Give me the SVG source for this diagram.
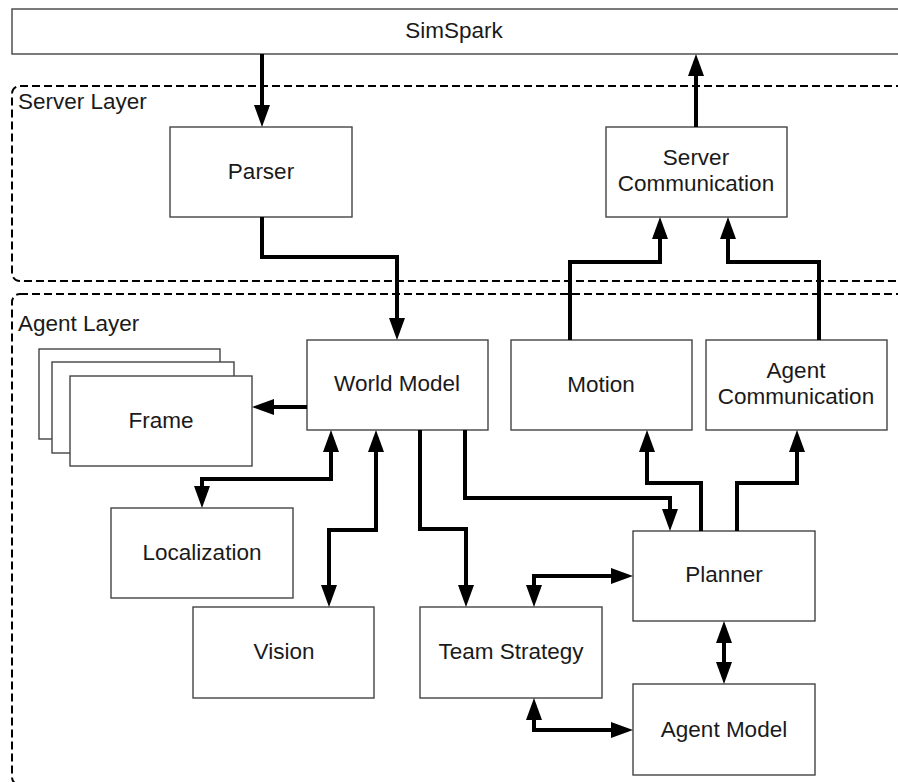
<svg xmlns="http://www.w3.org/2000/svg" width="898" height="782" viewBox="0 0 898 782">
<defs>
<marker id="ah" markerUnits="userSpaceOnUse" markerWidth="22" markerHeight="16" viewBox="0 0 22 16" refX="16" refY="8" orient="auto-start-reverse">
<path d="M0,0 L22,8 L0,16 z" fill="#000"/>
</marker>
<style>
.box{fill:#fff;stroke:#444;stroke-width:1.4}
.layer{fill:none;stroke:#000;stroke-width:2;stroke-dasharray:8 4}
.t{font-family:"Liberation Sans",Arial,sans-serif;font-size:22.5px;fill:#1a1a1a;text-anchor:middle}
.lt{font-family:"Liberation Sans",Arial,sans-serif;font-size:22.5px;fill:#1a1a1a}
.c{fill:none;stroke:#000;stroke-width:4;stroke-linejoin:miter}
.a{marker-end:url(#ah)}
.b{marker-start:url(#ah);marker-end:url(#ah)}
</style>
</defs>
<rect width="898" height="782" fill="#fff"/>
<g id="server-layer">
<rect class="layer" x="12" y="86" width="910" height="195" rx="8"/>
<text class="lt" x="18" y="109">Server Layer</text>
</g>
<g id="agent-layer">
<rect class="layer" x="12" y="294" width="910" height="491" rx="8"/>
<text class="lt" x="18" y="331">Agent Layer</text>
</g>
<g id="simspark">
<rect class="box" x="12" y="9" width="910" height="45"/>
<text class="t" x="454" y="38">SimSpark</text>
</g>
<g id="parser">
<rect class="box" x="170" y="127" width="182" height="90"/>
<text class="t" x="261" y="179">Parser</text>
</g>
<g id="server-communication">
<rect class="box" x="606" y="127" width="181" height="90"/>
<text class="t" x="696" y="165">Server</text>
<text class="t" x="696" y="191">Communication</text>
</g>
<g id="world-model">
<rect class="box" x="307" y="340" width="181" height="90"/>
<text class="t" x="397" y="391">World Model</text>
</g>
<g id="motion">
<rect class="box" x="511" y="340" width="181" height="90"/>
<text class="t" x="601" y="392">Motion</text>
</g>
<g id="agent-communication">
<rect class="box" x="706" y="340" width="181" height="90"/>
<text class="t" x="796" y="378">Agent</text>
<text class="t" x="796" y="404">Communication</text>
</g>
<g id="frame">
<rect class="box" x="39" y="349" width="181" height="90"/>
<rect class="box" x="52" y="362" width="182" height="91"/>
<rect class="box" x="70" y="376" width="182" height="90"/>
<text class="t" x="161" y="428">Frame</text>
</g>
<g id="localization">
<rect class="box" x="111" y="508" width="182" height="90"/>
<text class="t" x="202" y="560">Localization</text>
</g>
<g id="vision">
<rect class="box" x="193" y="607" width="181" height="91"/>
<text class="t" x="284" y="659">Vision</text>
</g>
<g id="team-strategy">
<rect class="box" x="420" y="607" width="182" height="91"/>
<text class="t" x="511" y="659">Team Strategy</text>
</g>
<g id="planner">
<rect class="box" x="633" y="531" width="182" height="90"/>
<text class="t" x="724" y="582">Planner</text>
</g>
<g id="agent-model">
<rect class="box" x="633" y="684" width="182" height="91"/>
<text class="t" x="724" y="737">Agent Model</text>
</g>
<g id="connectors">
<path class="c a" d="M262,54 V121"/>
<path class="c a" d="M696,127 V60"/>
<path class="c a" d="M262,217 V257 H397 V334"/>
<path class="c a" d="M570,340 V262 H660 V223"/>
<path class="c a" d="M819,340 V262 H728 V223"/>
<path class="c a" d="M307,407 H258"/>
<path class="c b" d="M331,436 V479 H202 V502"/>
<path class="c b" d="M376,436 V530 H329 V601"/>
<path class="c a" d="M420,430 V529 H466 V601"/>
<path class="c a" d="M465,430 V498 H670 V525"/>
<path class="c a" d="M701,531 V483 H647 V436"/>
<path class="c a" d="M737,531 V483 H797 V436"/>
<path class="c b" d="M534,601 V576 H627"/>
<path class="c b" d="M724,627 V678"/>
<path class="c b" d="M534,704 V730 H627"/>
</g>
</svg>
